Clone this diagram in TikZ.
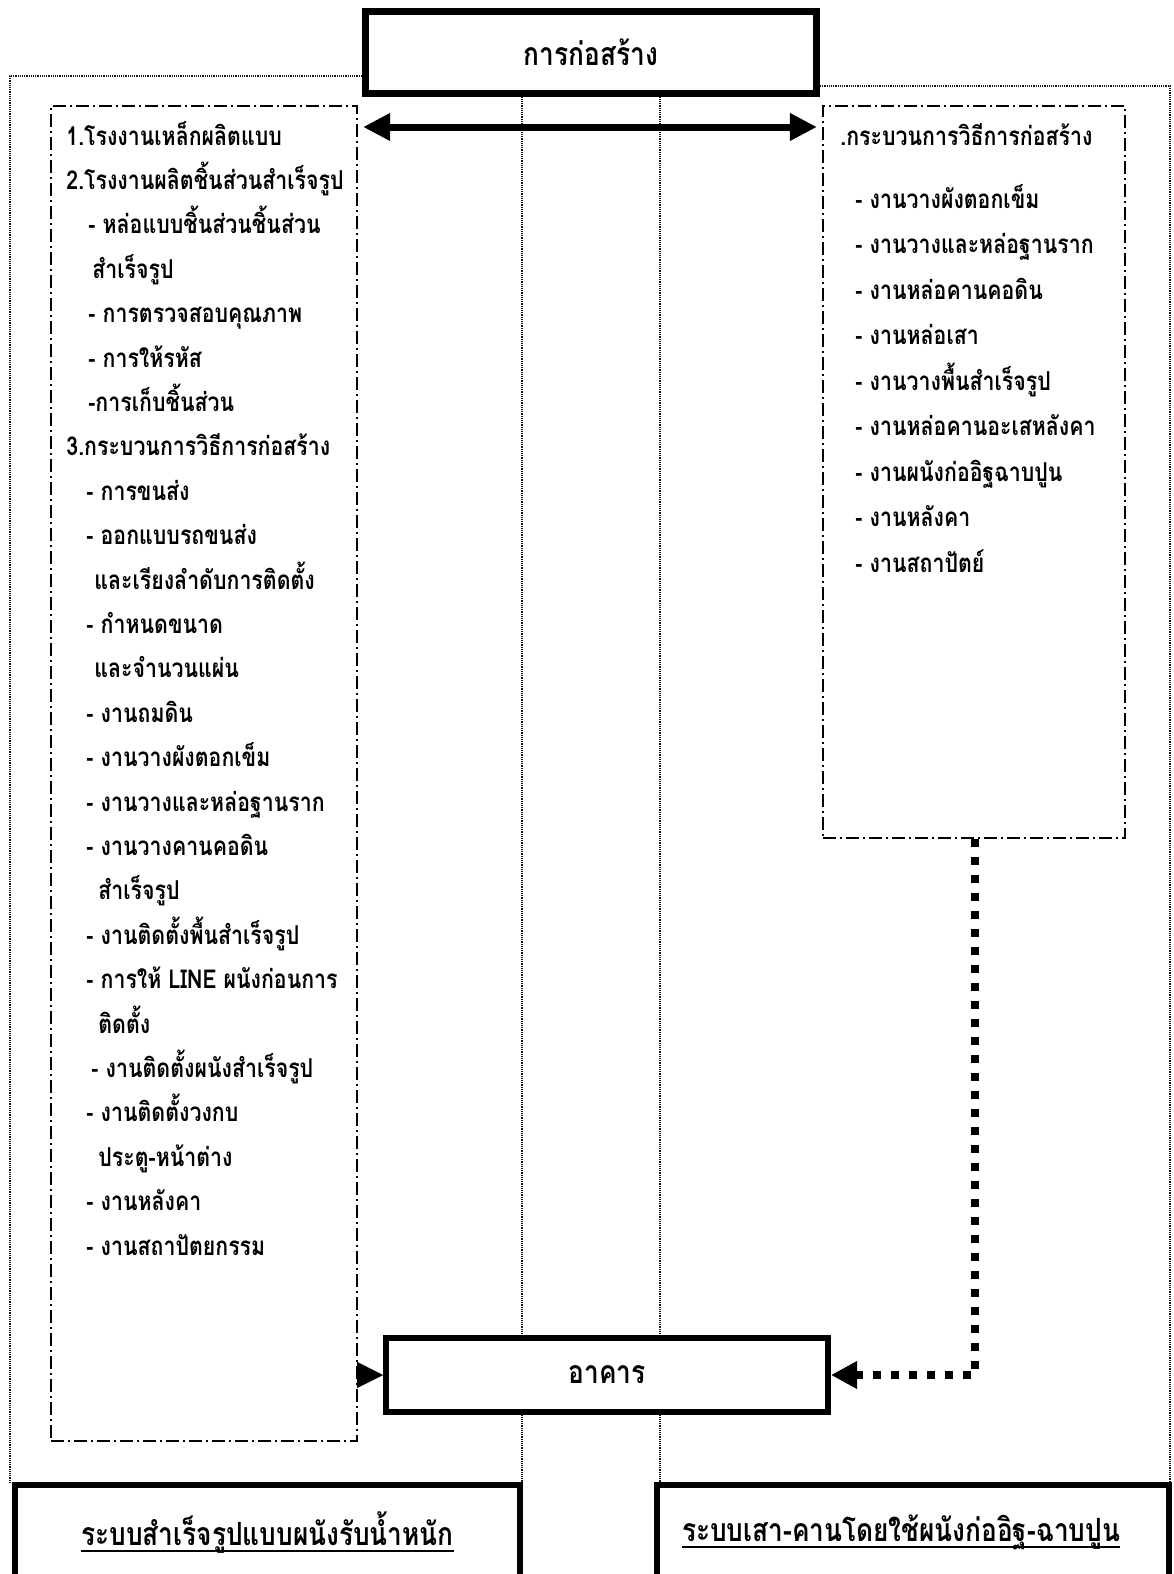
\documentclass[tikz,border=0pt]{standalone}
\usepackage{fontspec}
\newfontfamily\thaifont[Script=Thai,FakeStretch=0.82]{Loma}
\usetikzlibrary{arrows.meta}
\pgfdeclarelayer{background}
\pgfsetlayers{background,main}
\newcommand\myul[1]{\setbox0\hbox{#1}\rlap{\rule[-3pt]{\wd0}{1pt}}\box0}
\begin{document}
\begin{tikzpicture}[x=0.5pt,y=-0.5pt,
  frame/.style={draw=black!90, line width=0.9pt, dash pattern=on 0.6pt off 0.5pt},
  thickbox/.style={draw, line width=3pt, fill=white, inner sep=0pt, font=\thaifont\bfseries\fontsize{16}{19}\selectfont},
  dashbox/.style={draw, line width=1.1pt, dash pattern=on 6.5pt off 2pt on 1pt off 2pt, inner sep=0pt},
  item/.style={anchor=base west, inner sep=0pt, font=\thaifont\bfseries\fontsize{13}{15}\selectfont},
  bigarrow/.style={line width=3.5pt, {Triangle[length=13.5pt,width=13pt]}-{Triangle[length=13.5pt,width=13pt]}},
  tiponly/.style={line width=0.1pt, -{Triangle[length=13pt,width=13pt]}},
  dotconn/.style={line width=4pt, dash pattern=on 4pt off 5pt, -{Triangle[length=13pt,width=13pt]}}
]
\useasboundingbox (0,0) rectangle (1173,1574);

% main boxes
\node[thickbox, line width=3.5pt, minimum width=225.5pt, minimum height=41pt] (title) at (591,52) {การก่อสร้าง};
\node[dashbox, minimum width=153pt, minimum height=667.5pt] (lbox) at (204,773.5) {};
\node[dashbox, minimum width=151pt, minimum height=366pt] (rbox) at (974,472) {};
\node[thickbox, minimum width=221pt, minimum height=37pt] (akan) at (607,1375) {อาคาร};
\node[thickbox, minimum width=252.5pt, minimum height=47.5pt] (BL) at (267.5,1532.5) {\myul{ระบบสำเร็จรูปแบบผนังรับน้ำหนัก}};
\node[thickbox, minimum width=256pt, minimum height=47.5pt] (BR) at (913,1532.5) {\myul{ระบบเสา-คานโดยใช้ผนังก่ออิฐ-ฉาบปูน}\hspace*{12pt}};

% helper coordinates
\coordinate (fl) at (10,76);
\coordinate (fr) at (1170,86);
\coordinate (v1) at (522,0);
\coordinate (v2) at (660,0);
\coordinate (ay) at (0,127);
\coordinate (dv) at (975,0);

\begin{pgfonlayer}{background}
\draw[frame] (title.west |- fl) -- (fl) -- (BL.north -| fl);
\draw[frame] (title.east |- fr) -- (fr) -- (BR.north -| fr);
\draw[frame] (title.south -| v1) -- (BL.north -| v1);
\draw[frame] (title.south -| v2) -- (BR.north -| v2);
\end{pgfonlayer}

% connectors
\draw[bigarrow, shorten <=2.5pt, shorten >=2.5pt] (lbox.east |- ay) -- (rbox.west |- ay);
\draw[tiponly] (lbox.east |- akan.west) -- (akan.west);
\draw[dotconn] (rbox.south -| dv) -- (dv |- akan.east) -- (akan.east);

% left column text
\foreach \i/\x/\t in {
 1/66/{1.โรงงานเหล็กผลิตแบบ},
 2/66/{2.โรงงานผลิตชิ้นส่วนสำเร็จรูป},
 3/88/{- หล่อแบบชิ้นส่วนชิ้นส่วน},
 4/92/{สำเร็จรูป},
 5/88/{- การตรวจสอบคุณภาพ},
 6/88/{- การให้รหัส},
 7/88/{-การเก็บชิ้นส่วน},
 8/66/{3.กระบวนการวิธีการก่อสร้าง},
 9/86/{- การขนส่ง},
 10/86/{- ออกแบบรถขนส่ง},
 11/94/{และเรียงลำดับการติดตั้ง},
 12/86/{- กำหนดขนาด},
 13/94/{และจำนวนแผ่น},
 14/86/{- งานถมดิน},
 15/86/{- งานวางผังตอกเข็ม},
 16/86/{- งานวางและหล่อฐานราก},
 17/86/{- งานวางคานคอดิน},
 18/98/{สำเร็จรูป},
 19/86/{- งานติดตั้งพื้นสำเร็จรูป},
 20/86/{- การให้ LINE ผนังก่อนการ},
 21/98/{ติดตั้ง},
 22/91/{- งานติดตั้งผนังสำเร็จรูป},
 23/86/{- งานติดตั้งวงกบ},
 24/98/{ประตู-หน้าต่าง},
 25/86/{- งานหลังคา},
 26/86/{- งานสถาปัตยกรรม}}
 \node[item] (l\i) at (\x,{145+(\i-1)*44.4}) {\t};

% right column text
\node[item] (r0) at (840,145) {.กระบวนการวิธีการก่อสร้าง};
\foreach \i/\t in {
 1/{- งานวางผังตอกเข็ม},
 2/{- งานวางและหล่อฐานราก},
 3/{- งานหล่อคานคอดิน},
 4/{- งานหล่อเสา},
 5/{- งานวางพื้นสำเร็จรูป},
 6/{- งานหล่อคานอะเสหลังคา},
 7/{- งานผนังก่ออิฐฉาบปูน},
 8/{- งานหลังคา},
 9/{- งานสถาปัตย์}}
 \node[item] (r\i) at (855,{208+(\i-1)*45.5}) {\t};
\end{tikzpicture}
\end{document}
